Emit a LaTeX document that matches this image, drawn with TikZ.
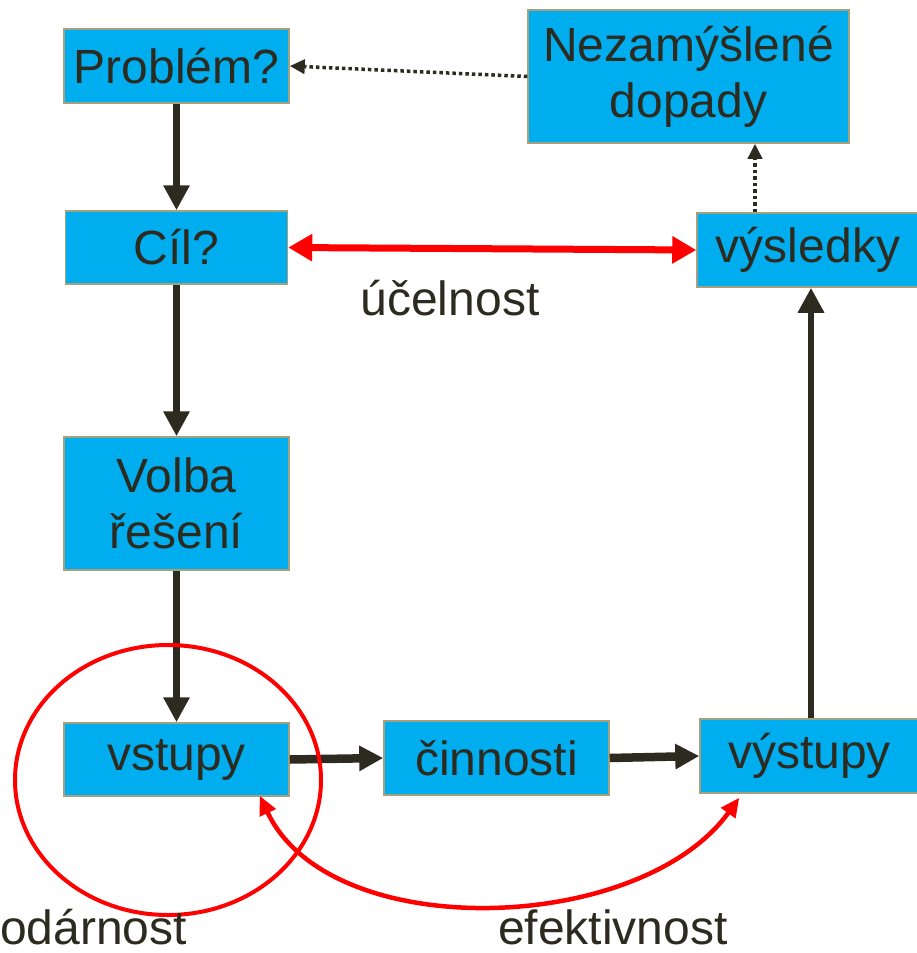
\documentclass[tikz,border=0pt]{standalone}
\usepackage{fontspec}
\setmainfont{Liberation Sans}
\usetikzlibrary{arrows.meta,calc}
\definecolor{boxfill}{RGB}{0,174,239}
\definecolor{boxline}{RGB}{165,160,125}
\definecolor{ink}{RGB}{45,42,32}
\definecolor{hot}{RGB}{255,0,0}
\begin{document}
\begin{tikzpicture}[x=1pt,y=-1pt,
  box/.style={draw=boxline, line width=1.5pt, fill=boxfill, text=ink,
    font=\fontsize{48}{56}\selectfont, inner sep=0pt, align=center},
  lbl/.style={text=ink, font=\fontsize{48}{56}\selectfont, inner sep=0pt},
  flow/.style={ink, line width=6.5pt, -{Triangle[length=25pt,width=25pt]}},
  flowh/.style={ink, line width=8.5pt, -{Triangle[length=24pt,width=24pt]}},
  dots/.style={ink, line width=3.5pt, dash pattern=on 3.5pt off 3pt, -{Triangle[length=15pt,width=14pt]}},
  redarr/.style={hot, line width=7pt, {Triangle[length=24pt,width=26pt]}-{Triangle[length=24pt,width=26pt]}},
  redcurve/.style={hot, line width=4.5pt, {Triangle[length=19pt,width=17pt]}-{Triangle[length=19pt,width=17pt]}}]
\fill[white] (0,0) rectangle (916,953);
\useasboundingbox (0,0) rectangle (916,953);

\node[box, minimum width=225pt, minimum height=74pt] (prob) at (176.5,66) {Problém?};
\node[box, minimum width=321pt, minimum height=133pt] (nez) at (688.5,76.5) {Nezamýšlené\\dopady};
\node[box, minimum width=222pt, minimum height=73pt] (cil) at (176.5,247.5) {Cíl?};
\node[box, minimum width=222pt, minimum height=74pt] (vys) at (808,250) {výsledky};
\node[box, minimum width=225pt, minimum height=133pt] (volba) at (176.5,503.5) {Volba\\řešení};
\node[box, minimum width=225pt, minimum height=73pt] (vst) at (176.5,759.5) {vstupy};
\node[box, minimum width=225pt, minimum height=74pt] (cin) at (496.5,758) {činnosti};
\node[box, minimum width=219pt, minimum height=74pt] (vyst) at (809.5,756) {výstupy};

\draw[flow] (prob.south) -- (cil.north);
\draw[flow] (cil.south) -- (volba.north);
\draw[flow] (volba.south) -- (vst.north);
\draw[flowh] (vst.east) -- (cin.west);
\draw[flowh] (cin.east) -- (vyst.west);
\draw[flow] ([xshift=1.5pt]vyst.north) -- ([xshift=1.5pt]vyst.north |- vys.south);

\draw[dots] (nez.west) -- (prob.east);
\coordinate (vt) at ($(vys.north)+(-53,0)$);
\draw[dots] (vt) -- (vt |- nez.south);

\draw[redarr] (cil.east) -- (vys.west);

\draw[hot, line width=4pt] (168,780) ellipse [x radius=153, y radius=135];

\coordinate (ca) at ($(vst.south east)+(-30,-1)$);
\coordinate (cb) at ($(vyst.south west)+(40,4)$);
\draw[redcurve] (ca) .. controls (330,945) and (640,935) .. (cb);

\node[lbl, anchor=base] (uc) at (450,315) {účelnost};
\node[lbl, anchor=base west] (hosp) at (0,944) {odárnost};
\node[lbl, anchor=base] (ef) at (613,944) {efektivnost};
\end{tikzpicture}
\end{document}
